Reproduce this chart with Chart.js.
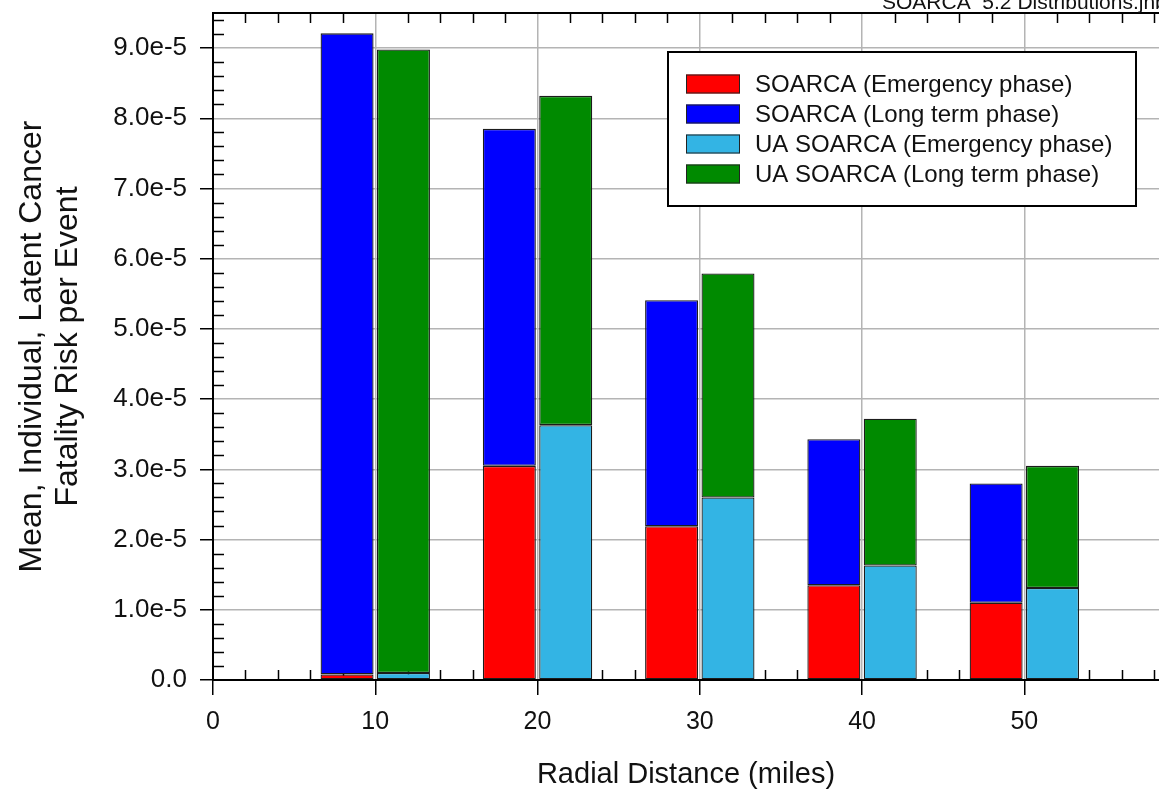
<!DOCTYPE html>
<html>
<head>
<meta charset="utf-8">
<script src="https://cdn.jsdelivr.net/npm/chart.js@4.4.1/dist/chart.umd.min.js"></script>
<style>
  html, body { margin: 0; padding: 0; background: #ffffff; }
  #wrap { width: 1159px; height: 792px; position: relative; }
</style>
</head>
<body>
<div id="wrap"><canvas id="c" width="1159" height="792"></canvas></div>
<script>
// ---- Data ----
const distances = [10, 20, 30, 40, 50];                        // miles
const seriesNames = [
  'SOARCA (Emergency phase)',
  'SOARCA (Long term phase)',
  'UA SOARCA (Emergency phase)',
  'UA SOARCA (Long term phase)'
];
const soarcaEmergency   = [0.08e-5, 3.05e-5, 2.19e-5, 1.35e-5, 1.10e-5];
const soarcaLongTerm    = [9.13e-5, 4.80e-5, 3.22e-5, 2.08e-5, 1.70e-5];
const uaEmergency       = [0.10e-5, 3.63e-5, 2.60e-5, 1.63e-5, 1.31e-5];
const uaLongTerm        = [8.88e-5, 4.69e-5, 3.19e-5, 2.09e-5, 1.74e-5];
const xTickValues = [0, 10, 20, 30, 40, 50];
const yTickLabels = ['0.0','1.0e-5','2.0e-5','3.0e-5','4.0e-5','5.0e-5','6.0e-5','7.0e-5','8.0e-5','9.0e-5'];
const xTitle = 'Radial Distance (miles)';
const yTitle = ['Mean, Individual, Latent Cancer', 'Fatality Risk per Event'];
const cornerNote = 'SOARCA  5.2 Distributions.jnb';

// ---- Styles ----
const colors = ['#ff0000', '#0000ff', '#33b4e4', '#008a00'];
const stacks = ['S', 'S', 'U', 'U'];
const FONT = "'Liberation Sans', Arial, sans-serif";

function pts(vals) { return distances.map((d, i) => ({ x: d, y: vals[i] })); }
const seriesValues = [soarcaEmergency, soarcaLongTerm, uaEmergency, uaLongTerm];

const datasets = seriesNames.map((name, i) => ({
  label: name,
  data: pts(seriesValues[i]),
  backgroundColor: colors[i],
  borderColor: '#1c1c1c',
  borderWidth: 1.3,
  borderSkipped: false,
  stack: stacks[i],
  categoryPercentage: 0.695,
  barPercentage: 0.94
}));

const decorPlugin = {
  id: 'decor',
  beforeDatasetsDraw(chart) {
    const { ctx, chartArea: a, scales: { x, y } } = chart;
    ctx.save();
    ctx.strokeStyle = '#000';
    ctx.lineWidth = 1.5;
    ctx.beginPath();
    // minor x ticks (inward, bottom and top)
    for (let v = 2; v <= x.max; v += 2) {
      if (v % 10 === 0) continue;
      const px = Math.round(x.getPixelForValue(v)) + 0.5;
      ctx.moveTo(px, a.bottom); ctx.lineTo(px, a.bottom - 10);
      ctx.moveTo(px, a.top); ctx.lineTo(px, a.top + 10);
    }
    // minor y ticks (inward on left)
    for (let k = 1; k * 0.2e-5 < y.max; k++) {
      if (k % 5 === 0) continue;
      const py = Math.round(y.getPixelForValue(k * 0.2e-5)) + 0.5;
      ctx.moveTo(a.left, py); ctx.lineTo(a.left + 11, py);
    }
    ctx.stroke();
    // top frame
    ctx.lineWidth = 2;
    ctx.beginPath();
    ctx.moveTo(a.left - 1, a.top); ctx.lineTo(a.right, a.top);
    ctx.stroke();
    ctx.restore();
  },
  afterDraw(chart) {
    const { ctx } = chart;
    ctx.save();
    // legend box
    const bx = 668, by = 52, bw = 468, bh = 154;
    ctx.fillStyle = '#fff';
    ctx.fillRect(bx, by, bw, bh);
    ctx.strokeStyle = '#000';
    ctx.lineWidth = 2;
    ctx.strokeRect(bx, by, bw, bh);
    ctx.font = '24px ' + FONT;
    ctx.textBaseline = 'middle';
    ctx.textAlign = 'left';
    chart.data.datasets.forEach((ds, i) => {
      const cy = 84 + i * 30;
      ctx.fillStyle = ds.backgroundColor;
      ctx.fillRect(686, cy - 9.5, 54, 19);
      ctx.lineWidth = 1;
      ctx.strokeStyle = '#222';
      ctx.strokeRect(686.5, cy - 9, 53, 18);
      ctx.fillStyle = '#111';
      ctx.fillText(ds.label, 755, cy + 1);
    });
    // corner note (cut off at the top edge, as in the reference)
    ctx.font = '21px ' + FONT;
    ctx.textBaseline = 'alphabetic';
    ctx.fillStyle = '#111';
    ctx.fillText(cornerNote, 882, 9);
    ctx.restore();
  }
};

new Chart(document.getElementById('c'), {
  type: 'bar',
  data: { datasets },
  options: {
    responsive: false,
    animation: false,
    layout: { padding: { top: 13, right: 0, left: 0, bottom: 0 } },
    plugins: {
      legend: { display: false },
      tooltip: { enabled: false },
      title: { display: false }
    },
    scales: {
      x: {
        type: 'linear',
        min: 0,
        max: 58.3,
        offset: false,
        afterFit(s) { s.height = 112; s.paddingLeft = 0; s.paddingRight = 0; },
        afterBuildTicks(s) { s.ticks = xTickValues.map(v => ({ value: v })); },
        ticks: {
          includeBounds: false,
          autoSkip: false,
          maxRotation: 0,
          padding: 12,
          color: '#111',
          font: { family: FONT, size: 25 },
          callback: (v) => String(v)
        },
        grid: {
          offset: false,
          color: '#b4b4b4',
          lineWidth: 1.5,
          tickColor: '#000',
          tickLength: 15,
          tickWidth: 1.5
        },
        border: { display: true, color: '#000', width: 2 },
        title: {
          display: true,
          text: xTitle,
          color: '#111',
          font: { family: FONT, size: 29 },
          padding: { top: 0, bottom: 0 }
        }
      },
      y: {
        min: 0,
        max: 9.5e-5,
        stacked: true,
        afterFit(s) { s.width = 213; s.paddingTop = 0; s.paddingBottom = 0; },
        afterBuildTicks(s) { s.ticks = yTickLabels.map((t, i) => ({ value: i * 1e-5 })); },
        ticks: {
          includeBounds: false,
          autoSkip: false,
          padding: 13,
          color: '#111',
          font: { family: FONT, size: 26 },
          callback: (v, i) => yTickLabels[i]
        },
        grid: {
          color: '#b4b4b4',
          lineWidth: 1.5,
          tickColor: '#000',
          tickLength: 13,
          tickWidth: 1.5
        },
        border: { display: true, color: '#000', width: 2 },
        title: {
          display: true,
          text: yTitle,
          color: '#111',
          font: { family: FONT, size: 32, lineHeight: 1.13 },
          padding: { top: 14, bottom: 0 }
        }
      }
    }
  },
  plugins: [decorPlugin]
});
</script>
</body>
</html>
